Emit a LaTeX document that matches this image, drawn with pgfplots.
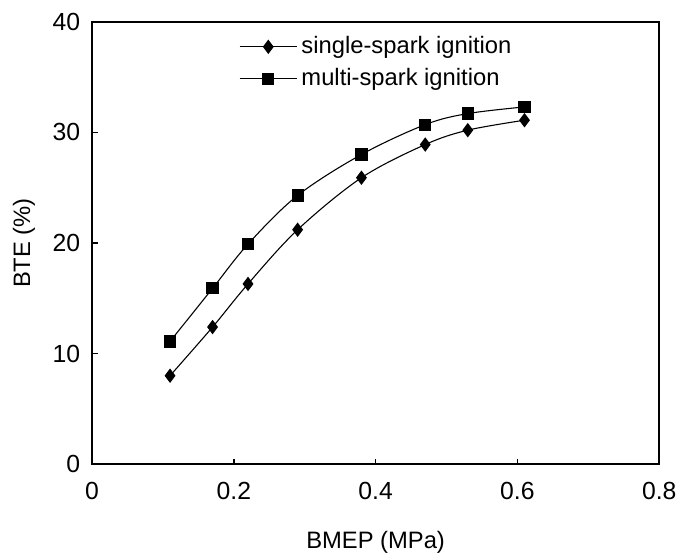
\documentclass[border=0pt]{standalone}
\usepackage{pgfplots}
\pgfplotsset{compat=1.18}
\usepackage{fontspec}
\setmainfont{Liberation Sans}

\begin{document}
\begin{tikzpicture}
\begin{axis}[
  width=286.5pt, height=223.5pt, scale only axis,
  xmin=0, xmax=0.8, ymin=0, ymax=40,
  xtick={0,0.2,0.4,0.6,0.8}, ytick={0,10,20,30,40},
  xticklabels={0,0.2,0.4,0.6,0.8},
  tick pos=left, tick align=inside, major tick length=2.8pt,
  axis line style={line width=0.9pt}, tick style={line width=0.8pt, black},
  /pgf/number format/assume math mode=true,
  every tick label/.append style={font=\fontsize{12.5}{14}\selectfont},
  xticklabel style={yshift=-5.5pt},
  yticklabel style={xshift=-2.5pt},
  xlabel={BMEP (MPa)}, ylabel={BTE (\%)},
  label style={font=\fontsize{12}{14}\selectfont},
  xlabel style={yshift=-9pt},
  ylabel style={yshift=2pt},
  legend style={at={(0.248,0.985)}, anchor=north west, draw=none, fill=none,
    font=\fontsize{12}{14}\selectfont, row sep=2pt},
  legend cell align=left,
  legend image code/.code={\draw[mark repeat=2,mark phase=2,#1] plot coordinates {(0pt,0pt) (14.5pt,0pt) (29pt,0pt)};},
]
\addplot[black, line width=0.55pt, smooth, tension=0.55, mark=diamond*, mark size=3.2pt, mark options={solid}]
  coordinates {(0.11,8.0) (0.17,12.4) (0.22,16.3) (0.29,21.2) (0.38,25.9) (0.47,28.9) (0.53,30.2) (0.61,31.1)};
\addlegendentry{single-spark ignition}
\addplot[black, line width=0.55pt, smooth, tension=0.55, mark=square*, mark size=2.8pt, mark options={solid}]
  coordinates {(0.11,11.1) (0.17,15.9) (0.22,19.9) (0.29,24.3) (0.38,28.0) (0.47,30.7) (0.53,31.7) (0.61,32.3)};
\addlegendentry{multi-spark ignition}
\end{axis}
\path ([shift={(-46.5pt,-42.5pt)}]current axis.south west) rectangle ([shift={(8.5pt,11pt)}]current axis.north east);
\end{tikzpicture}
\end{document}
